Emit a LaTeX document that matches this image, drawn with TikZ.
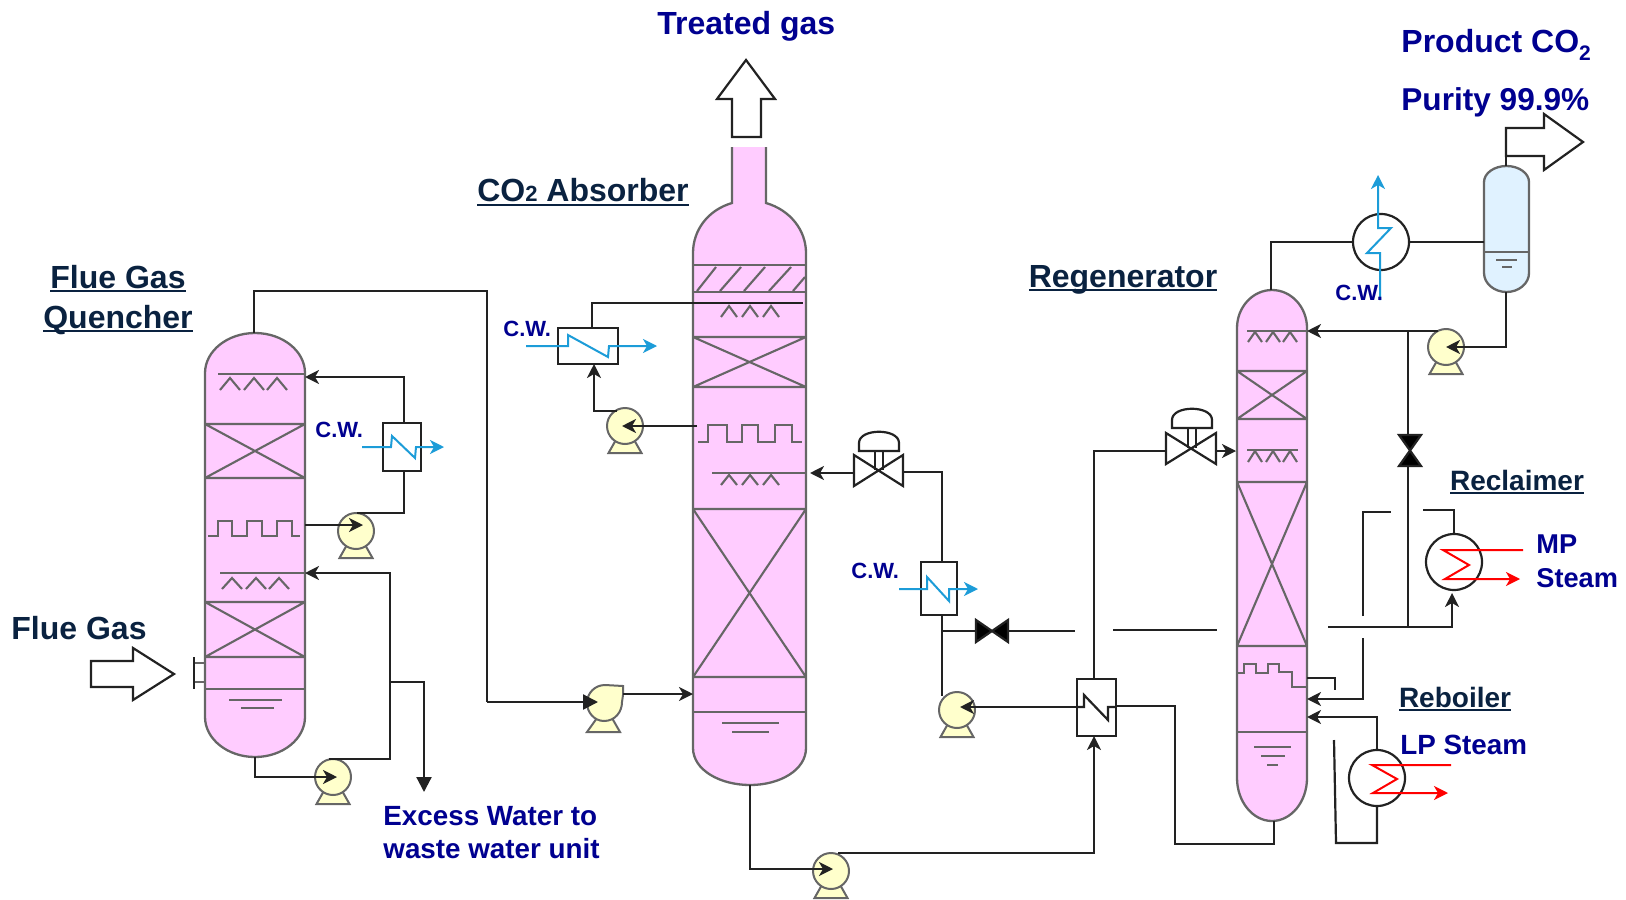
\documentclass[tikz,border=0pt]{standalone}
\usepackage{fontspec}
\setmainfont{Liberation Sans}
\usetikzlibrary{arrows.meta}
\definecolor{vesselpink}{HTML}{FFCCFF}
\definecolor{druMblue}{HTML}{E0F2FF}
\definecolor{pumpcream}{HTML}{FFFFCC}
\definecolor{linegrey}{HTML}{666666}
\definecolor{pipeblack}{HTML}{222222}
\definecolor{cwblue}{HTML}{1C9CD8}
\definecolor{labelnavy}{HTML}{0A2240}
\definecolor{streamblue}{HTML}{000090}
\newcommand\ulab[1]{\setbox0\hbox{#1}\rlap{\rule[-2pt]{\wd0}{0.8pt}}\box0}
\newcommand\Cpt[3]{\coordinate (#1) at (#2,#3);}
\newcommand\vesselbody[7]{% style L R ys yt yb ye
  \path[#1] (#2,#4) .. controls (#2,{#4-.55*(#4-#5)}) and ({(#2+#3)/2-.275*(#3-#2)},#5) .. ({(#2+#3)/2},#5)
   .. controls ({(#2+#3)/2+.275*(#3-#2)},#5) and (#3,{#4-.55*(#4-#5)}) .. (#3,#4)
   -- (#3,#6) .. controls (#3,{#6+.55*(#7-#6)}) and ({(#2+#3)/2+.275*(#3-#2)},#7) .. ({(#2+#3)/2},#7)
   .. controls ({(#2+#3)/2-.275*(#3-#2)},#7) and (#2,{#6+.55*(#7-#6)}) .. (#2,#6) -- cycle;}
\newcommand\packing[4]{% L R top bottom
  \draw[internal] (#1,#3) -- (#2,#3) (#1,#4) -- (#2,#4) (#1,#3) -- (#2,#4) (#1,#4) -- (#2,#3);}
\newcommand\carets[4]{% ytop ybot halfwidth list
  \foreach \cx in {#4} {\draw[internal] ({\cx-#3},#2) -- (\cx,#1) -- ({\cx+#3},#2);}}
\newcommand\pumpat[3]{% name x y
  \draw[pumpbody] ({#2-16.5},{#3+27}) -- ({#2+16.5},{#3+27}) -- ({#2+8},{#3+12}) -- ({#2-8},{#3+12}) -- cycle;
  \node[pumpbody,circle,minimum size=18pt,inner sep=0pt] (#1) at (#2,#3) {};}
\newcommand\valvebody[6]{% style name x y hw hh
  \coordinate (#2) at (#3,#4);
  \draw[#1] ({#3-#5},{#4-#6}) -- ({#3+#5},{#4+#6}) -- ({#3+#5},{#4-#6}) -- ({#3-#5},{#4+#6}) -- cycle;}
\newcommand\actuator[4]{% x (stem centre) dome-top base valve-centre
  \draw[pipe] ({#1-4},#3) -- ({#1-4},#4) ({#1+4},#3) -- ({#1+4},#4);
  \draw[pipe,fill=white] ({#1-20},#3) -- ({#1-20},{#3-8}) .. controls ({#1-20},{#2-4}) and ({#1+20},{#2-4}) .. ({#1+20},{#3-8}) -- ({#1+20},#3) -- cycle;}
\tikzset{
  shell/.style={fill=vesselpink,draw=linegrey,line width=1.15pt},
  drumshell/.style={fill=druMblue,draw=linegrey,line width=1.15pt},
  internal/.style={draw=linegrey,line width=1.05pt},
  pipe/.style={draw=pipeblack,line width=1.1pt},
  flow/.style={pipe,-{Stealth[length=7pt,width=7pt,inset=2pt]}},
  bigflow/.style={pipe,-{Stealth[length=7.5pt,width=7.5pt,inset=0pt]}},
  pumpbody/.style={fill=pumpcream,draw=linegrey,line width=1pt},
  hxbox/.style={draw=pipeblack,line width=1.15pt,fill=white,inner sep=0pt},
  ringhx/.style={circle,draw=pipeblack,line width=1.1pt,inner sep=0pt,minimum size=28pt},
  cw/.style={draw=cwblue,line width=1pt},
  cwflow/.style={cw,-{Stealth[length=7pt,width=7pt,inset=2pt]}},
  steam/.style={draw=red,line width=1pt},
  steamflow/.style={steam,-{Stealth[length=7pt,width=7pt,inset=2pt]}},
  blockarrow/.style={draw=pipeblack,line width=1.1pt,fill=white,line join=miter},
  title/.style={inner sep=0pt,anchor=base,text=labelnavy,font=\fontsize{#1}{#1}\selectfont\bfseries},
  stream/.style={inner sep=0pt,anchor=base west,text=streamblue,font=\fontsize{#1}{#1}\selectfont\bfseries},
}
\begin{document}
\begin{tikzpicture}[x=0.5pt,y=-0.5pt]
\useasboundingbox (0,0) rectangle (1626,899);
% ---------- vessels
\vesselbody{shell}{205}{305}{373}{333}{717}{757}
\path[shell] (732,147) -- (732,203) .. controls (708,210) and (693,230) .. (693,253) -- (693,748)
  .. controls (693,770) and (720,785) .. (750,785) .. controls (780,785) and (806,770) .. (806,748)
  -- (806,253) .. controls (806,230) and (790,210) .. (766,203) -- (766,147);
\vesselbody{shell}{1237}{1307}{328}{290}{778}{821}
\vesselbody{drumshell}{1484}{1529}{182}{166}{273}{292}
\draw[internal] (194,663) -- (205,663) (194,682) -- (205,682);
\draw[pipe] (194,657) -- (194,689);
% quencher internals
\draw[internal] (218,374) -- (305,374);
\carets{378}{390}{10}{230,254,277}
\packing{205}{305}{424}{478}
\draw[internal] (208,536) -- (218,536) -- (218,521) -- (232,521) -- (232,536) -- (247,536) -- (247,521) -- (262,521) -- (262,536) -- (277,536) -- (277,521) -- (292,521) -- (292,536) -- (300,536);
\draw[internal] (220,573) -- (305,573);
\carets{578}{589}{10}{232,256,279}
\packing{205}{305}{602}{657}
\draw[internal] (206,689) -- (304,689) (229,700) -- (282,700) (241,708) -- (274,708);
% absorber internals
\draw[internal] (693,265) -- (806,265) (693,292) -- (806,292);
\draw[internal] (697,291) -- (716,267) (720,291) -- (741,267) (744,291) -- (765,267) (769,291) -- (791,267) (793,291) -- (805,277);
\carets{306}{317}{8}{729,750,771}
\packing{693}{806}{337}{387}
\draw[internal] (698,442) -- (708,442) -- (708,425) -- (727,425) -- (727,442) -- (742,442) -- (742,425) -- (758,425) -- (758,442) -- (775,442) -- (775,425) -- (792,425) -- (792,442) -- (802,442);
\draw[internal] (712,473) -- (806,473);
\carets{475}{485}{8}{729,750,771}
\packing{693}{806}{509}{677}
\draw[internal] (693,712) -- (806,712) (722,723) -- (779,723) (732,732) -- (769,732);
% regenerator internals
\draw[internal] (1247,331) -- (1307,331);
\carets{332}{342}{7}{1255,1273,1290}
\packing{1237}{1307}{371}{419}
\draw[internal] (1247,450) -- (1298,450);
\carets{451}{462}{7}{1255,1273,1290}
\packing{1237}{1307}{482}{646}
\draw[internal] (1237,673) -- (1244,673) -- (1244,664) -- (1256,664) -- (1256,673) -- (1268,673) -- (1268,664) -- (1279,664) -- (1279,672) -- (1292,672) -- (1292,687) -- (1307,687);
\draw[internal] (1237,732) -- (1307,732) (1254,747) -- (1291,747) (1261,756) -- (1285,756) (1267,765) -- (1278,765);
% drum internals
\draw[internal] (1484,252) -- (1529,252) (1496,260) -- (1517,260) (1502,267) -- (1512,267);
% ---------- block arrows
\draw[blockarrow] (91,661) -- (133,661) -- (133,648) -- (174,674) -- (133,700) -- (133,687) -- (91,687) -- cycle;
\draw[blockarrow] (746,60) -- (775,99) -- (761,99) -- (761,137) -- (732,137) -- (732,99) -- (717,99) -- cycle;
\draw[blockarrow] (1506,128) -- (1544,128) -- (1544,114) -- (1583,142) -- (1544,170) -- (1544,156) -- (1506,156) -- cycle;
\draw[blockarrow] (1506,156) -- (1506,166);
% ---------- pumps
\pumpat{pqa}{356}{531}
\pumpat{pqb}{333}{777}
\pumpat{paa}{625}{426}
\pumpat{pal}{957}{710}
\pumpat{pab}{831}{871}
\pumpat{prf}{1446}{347}
\draw[pumpbody] (587,732) -- (620,732) -- (612,718) -- (597,718) -- cycle;
\path[pumpbody] (623,686) -- (623,695) -- (622,702) .. controls (622,712) and (615,721) .. (604,721) .. controls (594,721) and (587,712) .. (587,703) .. controls (587,693) and (595,685) .. (605,685) -- cycle;
\coordinate (pfd) at (605,703);
% ---------- heat exchangers
\node[hxbox,minimum width=19pt,minimum height=24pt] (hxq) at (402,447) {};
\node[hxbox,minimum width=30pt,minimum height=18pt] (hxa) at (588,346) {};
\node[hxbox,minimum width=18pt,minimum height=26.5pt] (hxl) at (939,588.5) {};
\node[hxbox,minimum width=19.5pt,minimum height=28.5pt] (hxr) at (1096.5,707.5) {};
\node[ringhx] (cond) at (1381,242) {};
\node[ringhx] (recl) at (1454,562) {};
\node[ringhx] (rebo) at (1377,778) {};
% ---------- named connection points
\Cpt{qtop}{254}{333}\Cpt{qoh}{254}{291}\Cpt{qoh2}{487}{291}\Cpt{fdin}{487}{702}\Cpt{fdtip}{598}{702}
\Cpt{fdout}{623}{694}\Cpt{atip}{693}{694}
\Cpt{qdraw}{305}{525}\Cpt{pqatip}{363}{525}\Cpt{pqaout}{357}{513}\Cpt{hxqb}{404}{471}\Cpt{hxqt}{404}{423}\Cpt{qret}{305}{377}
\Cpt{qbot}{255}{757}\Cpt{pqbtip}{337}{777}\Cpt{pqbout}{329}{759}\Cpt{qret2}{305}{573}\Cpt{qrise}{390}{759}
\Cpt{xs}{390}{682}\Cpt{xtip}{424}{792}
\Cpt{adraw}{697}{426}\Cpt{paatip}{622}{426}\Cpt{paaout}{617}{411}\Cpt{hxatip}{594}{364}\Cpt{hxat}{592}{328}\Cpt{aret}{803}{303}
\Cpt{vatip}{810}{473}\Cpt{vaL}{854}{473}\Cpt{vaR}{903}{472}\Cpt{hxlt}{942}{562}\Cpt{hxlb}{942}{615}\Cpt{palt}{942}{696}
\Cpt{abot}{750}{785}\Cpt{pabtip}{833}{869}\Cpt{pabout}{838}{853}\Cpt{hxrtip}{1094}{736}
\Cpt{hxrt}{1094}{679}\Cpt{vrL}{1166}{451}\Cpt{vrR}{1216}{451}\Cpt{vrtip}{1236}{451}
\Cpt{hxrlw}{1083}{707}\Cpt{paltip}{960}{707}
\Cpt{hxrre}{1116}{706}\Cpt{rbd}{1175}{706}\Cpt{rbe}{1175}{844}\Cpt{rbot}{1274}{821}
\Cpt{tee}{942}{631}\Cpt{vbL}{976}{631}\Cpt{vbR}{1008}{631}\Cpt{g1}{1075}{631}\Cpt{g2}{1113}{630}\Cpt{g3}{1217}{630}
\Cpt{g4}{1328}{627}\Cpt{reclb}{1452}{593}\Cpt{rv}{1408}{627}\Cpt{vcb}{1408}{466}\Cpt{vct}{1408}{435}\Cpt{rfj}{1408}{331}
\Cpt{rtop}{1271}{290}\Cpt{drumL}{1484}{242}\Cpt{drumb}{1506}{292}\Cpt{prftip}{1446}{347}\Cpt{prfout}{1438}{331}\Cpt{rrf}{1307}{331}
\Cpt{rdraw}{1307}{678}\Cpt{rdraw2}{1335}{690}
\Cpt{rclm}{1307}{699}\Cpt{rclm2}{1363}{638}\Cpt{rclm3}{1363}{616}\Cpt{rclm4}{1391}{512}\Cpt{rclm5}{1423}{510}\Cpt{rclm6}{1452}{534}
\Cpt{rebt}{1307}{717}\Cpt{rebs}{1336}{843}\Cpt{rebr}{1334}{740}
% ---------- pipes
\draw[pipe] (qtop) -- (qoh) -- (qoh2) -- (fdin);
\draw[bigflow] (fdin) -- (fdtip);
\draw[flow] (fdout) -- (atip);
\draw[flow] (qdraw) -- (pqatip);
\draw[pipe] (pqaout) -| (hxqb);
\draw[flow] (hxqt) |- (qret);
\draw[flow] (qbot) |- (pqbtip);
\draw[flow] (pqbout) -- (qrise) |- (qret2);
\draw[bigflow] (xs) -| (xtip);
\draw[flow] (adraw) -- (paatip);
\draw[flow] (paaout) -| (hxatip);
\draw[pipe] (hxat) |- (aret);
\draw[flow] (vaL) -- (vatip);
\draw[pipe] (vaR) -| (hxlt);
\draw[pipe] (hxlb) -- (palt);
\draw[flow] (abot) |- (pabtip);
\draw[flow] (pabout) -| (hxrtip);
\draw[pipe] (hxrt) |- (vrL);
\draw[flow] (vrR) -- (vrtip);
\draw[flow] (hxrlw) -- (paltip);
\draw[pipe] (hxrre) -- (rbd) -- (rbe) -| (rbot);
\draw[pipe] (tee) -- (vbL) (vbR) -- (g1) (g2) -- (g3);
\draw[flow] (g4) -| (reclb);
\draw[pipe] (rv) -- (vcb) (vct) -- (rfj);
\draw[pipe] (rtop) |- (cond.west);
\draw[pipe] (cond.east) -- (drumL);
\draw[flow] (drumb) |- (prftip);
\draw[flow] (prfout) -- (rrf);
\draw[pipe] (rdraw) -| (rdraw2);
\draw[flow] (rclm3 |- rclm2) |- (rclm);
\draw[pipe] (rclm3) |- (rclm4);
\draw[pipe] (rclm5) -| (recl.north);
\draw[flow] (rebo.north) |- (rebt);
\draw[pipe] (rebo.south) |- (rebs) -- (rebr);
% ---------- valves and process side of the lean/rich exchanger
\valvebody{pipe,fill=white}{vabs}{878.5}{470.5}{24.5}{15.5}
\actuator{879}{432}{451}{470}
\valvebody{pipe,fill=white}{vreg}{1191}{448.5}{25}{15.5}
\actuator{1192}{409}{428}{448}
\valvebody{pipe,fill=black}{vby}{992}{631}{16}{11}
\draw[pipe,fill=black] (1399,435) -- (1421,435) -- (1399,466) -- (1421,466) -- cycle;
\draw[pipe] (1077,707) -- (1084,707) -- (1084,695) -- (1108,720) -- (1108,707) -- (1116,707);
% ---------- cooling water
\draw[cwflow] (362,447) -- (391,447) -- (392,436) -- (415,458) -- (416,447) -- (444,447);
\draw[cwflow] (526,346) -- (568,346) -- (568,335) -- (608,357) -- (609,346) -- (657,346);
\draw[cwflow] (899,589) -- (927,589) -- (927,577) -- (949,601) -- (949,589) -- (978,589);
\draw[cwflow] (1380,300) -- (1380,253) -- (1367,253) -- (1391,228) -- (1378,228) -- (1378,175);
% ---------- steam
\draw[steamflow] (1523,550) -- (1443,550) -- (1469,565) -- (1445,579) -- (1520,579);
\draw[steamflow] (1451,765) -- (1372,765) -- (1397,779) -- (1373,793) -- (1448,793);
% ---------- labels
\node[title=16] (lfg1) at (118,288) {\ulab{Flue Gas}};
\node[title=16] (lfg2) at (118,328) {\ulab{Quencher}};
\node[title=16] (lfg3) at (79,639) {Flue Gas};
\node[title=16] (labs) at (583,201.5) {\ulab{CO{\fontsize{11}{11}\selectfont 2} Absorber}};
\node[title=16] (lreg) at (1123,287) {\ulab{Regenerator}};
\node[title=14] (lrec) at (1517,490) {\ulab{Reclaimer}};
\node[title=14] (lreb) at (1455,707) {\ulab{Reboiler}};
\node[stream=16] (ltg) at (657,35) {Treated gas};
\node[stream=16] (lpr) at (1401,53) {Product CO\raisebox{-.22em}{\fontsize{10.5}{10.5}\selectfont 2}};
\node[stream=15.8] (lpu) at (1401,111) {Purity 99.9\%};
\node[stream=13.9] (lex1) at (383,825) {Excess Water to};
\node[stream=13.9] (lex2) at (383,858) {waste water unit};
\node[stream=13.6] (lmp) at (1536,553) {MP};
\node[stream=13.6] (lst) at (1536,587) {Steam};
\node[stream=13.9] (llp) at (1400,754) {LP Steam};
\node[stream=11] (lcw1) at (315,437) {C.W.};
\node[stream=11] (lcw2) at (503,336) {C.W.};
\node[stream=11] (lcw3) at (851,578) {C.W.};
\node[stream=11] (lcw4) at (1335,300) {C.W.};
\end{tikzpicture}
\end{document}
